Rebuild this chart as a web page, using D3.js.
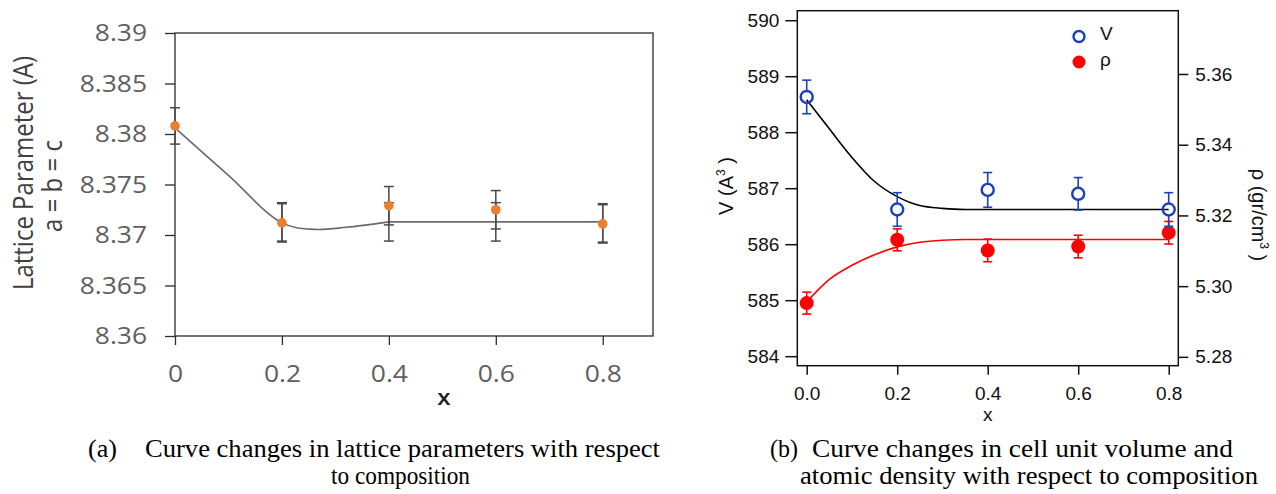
<!DOCTYPE html>
<html>
<head>
<meta charset="utf-8">
<script src="https://cdn.jsdelivr.net/npm/d3@7"></script>
<style>
  body { margin: 0; background: #fff; }
  svg { display: block; }
</style>
</head>
<body>
<svg id="chart" width="1276" height="494"></svg>
<script>
// ---- (a) lattice parameter vs composition
const compX = [0, 0.2, 0.4, 0.6, 0.8]
const latticeVal = [8.3808, 8.3712, 8.3729, 8.3725, 8.3711]
const latticeErr = [0.0018, 0.0019, 0.0019, 0.0019, 0.0019]
const latticeFitBarX = [0.2, 0.4, 0.6, 0.8]
const latticeFitBarVal = [8.3713, 8.3713, 8.3713, 8.3712]
const latticeFitBarErr = [0.0019, 0.0019, 0.0019, 0.0019]
// curved part of the fit, then the flat tail
const latticeFitX = [0, 0.1, 0.2, 0.26, 0.32, 0.4]
const latticeFitY = [8.3806, 8.3759, 8.3712, 8.37056, 8.37076, 8.3713]
const latticeTailX = [0.4, 0.8]
const latticeTailY = [8.3713, 8.3713]
const latticeTicks = [8.36, 8.365, 8.37, 8.375, 8.38, 8.385, 8.39]
const latticeTickLabels = ['8.36', '8.365', '8.37', '8.375', '8.38', '8.385', '8.39']
const compTickLabelsA = ['0', '0.2', '0.4', '0.6', '0.8']

// ---- (b) cell volume and density vs composition
const volVal = [588.63, 586.62, 586.97, 586.90, 586.62]
const volErr = [0.30, 0.30, 0.31, 0.29, 0.30]
const rhoVal = [5.2952, 5.3131, 5.3101, 5.3112, 5.3151]
const rhoErr = [0.0031, 0.0031, 0.0032, 0.0032, 0.0032]
const fitXB = [0, 0.05, 0.1, 0.15, 0.2, 0.25, 0.3, 0.35, 0.8]
const volFit = [588.58, 588.06, 587.55, 587.12, 586.85, 586.69, 586.64, 586.62, 586.62]
const rhoFit = [5.2955, 5.3019, 5.3059, 5.3089, 5.3111, 5.3124, 5.3130, 5.3132, 5.3132]
const volTicks = [584, 585, 586, 587, 588, 589, 590]
const rhoTicks = [5.28, 5.30, 5.32, 5.34, 5.36]
const rhoTickLabels = ['5.28', '5.30', '5.32', '5.34', '5.36']
const compTickLabelsB = ['0.0', '0.2', '0.4', '0.6', '0.8']

const svg = d3.select('#chart')
svg.append('rect').attr('width', 1276).attr('height', 494).attr('fill', '#fff')

// panel (a) text is a bit wider than normal in the source picture
const stretchA = 1.1
const widen = (sel, sx) => sel.each(function () {
  const t = d3.select(this)
  const x = +t.attr('x') || 0
  t.attr('x', x / sx).attr('transform', `scale(${sx},1)`)
})

// ================= panel (a)
const ax = d3.scaleLinear().domain([0, 0.894]).range([175, 653])
const ay = d3.scaleLinear().domain([8.36, 8.39]).range([336, 33])
const fontA = '"Open Sans", sans-serif'
const gA = svg.append('g')

gA.append('rect')
  .attr('x', ax.range()[0]).attr('y', ay.range()[1])
  .attr('width', ax.range()[1] - ax.range()[0])
  .attr('height', ay.range()[0] - ay.range()[1])
  .attr('fill', 'none').attr('stroke', '#2b2b2b').attr('stroke-width', 1.3)

const axisLA = gA.append('g')
  .attr('transform', `translate(${ax.range()[0]},0)`)
  .call(d3.axisLeft(ay).tickValues(latticeTicks).tickFormat((d, i) => latticeTickLabels[i])
    .tickSize(10).tickSizeOuter(0).tickPadding(18))
  .attr('font-family', fontA).attr('font-size', 24)
axisLA.select('.domain').remove()
axisLA.selectAll('.tick line').attr('stroke', '#2b2b2b').attr('stroke-width', 1.3)
axisLA.selectAll('text').attr('fill', '#606060')
widen(axisLA.selectAll('text'), stretchA)

const axisBA = gA.append('g')
  .attr('transform', `translate(0,${ay.range()[0]})`)
  .call(d3.axisBottom(ax).tickValues(compX).tickFormat((d, i) => compTickLabelsA[i])
    .tickSize(9).tickSizeOuter(0).tickPadding(19.5))
  .attr('font-family', fontA).attr('font-size', 24)
axisBA.select('.domain').remove()
axisBA.selectAll('.tick line').attr('stroke', '#2b2b2b').attr('stroke-width', 1.3)
axisBA.selectAll('text').attr('fill', '#606060')
widen(axisBA.selectAll('text'), stretchA)

// fitted curve
const fitLineA = d3.line().x(d => ax(d[0])).y(d => ay(d[1]))
gA.append('path')
  .datum(latticeFitX.map((x, i) => [x, latticeFitY[i]]))
  .attr('fill', 'none').attr('stroke', '#6a6a6a').attr('stroke-width', 1.6)
  .attr('d', fitLineA.curve(d3.curveCatmullRom.alpha(0.5)))
gA.append('path')
  .datum(latticeTailX.map((x, i) => [x, latticeTailY[i]]))
  .attr('fill', 'none').attr('stroke', '#6a6a6a').attr('stroke-width', 1.6)
  .attr('d', fitLineA.curve(d3.curveLinear))

const errBar = (g, xs, vals, errs, xScale, yScale, capW, color, sw) => {
  const bars = g.append('g').attr('stroke', color).attr('stroke-width', sw).attr('fill', 'none')
    .selectAll('g').data(xs.map((x, i) => ({ x, v: vals[i], e: errs[i] }))).join('g')
  bars.append('line')
    .attr('x1', d => xScale(d.x)).attr('x2', d => xScale(d.x))
    .attr('y1', d => yScale(d.v + d.e)).attr('y2', d => yScale(d.v - d.e))
  bars.append('line')
    .attr('x1', d => xScale(d.x) - capW / 2).attr('x2', d => xScale(d.x) + capW / 2)
    .attr('y1', d => yScale(d.v + d.e)).attr('y2', d => yScale(d.v + d.e))
  bars.append('line')
    .attr('x1', d => xScale(d.x) - capW / 2).attr('x2', d => xScale(d.x) + capW / 2)
    .attr('y1', d => yScale(d.v - d.e)).attr('y2', d => yScale(d.v - d.e))
}

errBar(gA, latticeFitBarX, latticeFitBarVal, latticeFitBarErr, ax, ay, 10, '#4a4a4a', 1.5)
errBar(gA, compX, latticeVal, latticeErr, ax, ay, 10, '#4a4a4a', 1.5)

gA.append('g').selectAll('circle')
  .data(compX.map((x, i) => [x, latticeVal[i]])).join('circle')
  .attr('cx', d => ax(d[0])).attr('cy', d => ay(d[1])).attr('r', 4.8)
  .attr('fill', '#ED7D31')

// axis titles (a)
gA.append('text')
  .attr('transform', `translate(33,173) scale(${stretchA},1) rotate(-90)`)
  .attr('text-anchor', 'middle').attr('font-family', fontA).attr('font-size', 24)
  .attr('fill', '#404040').text('Lattice Parameter (A)')
gA.append('text')
  .attr('transform', `translate(62,186) scale(${stretchA},1) rotate(-90)`)
  .attr('text-anchor', 'middle').attr('font-family', fontA).attr('font-size', 24)
  .attr('fill', '#404040').text('a = b = c')
gA.append('text')
  .attr('transform', `translate(444,405) scale(${stretchA},1)`)
  .attr('text-anchor', 'middle').attr('font-family', fontA).attr('font-size', 22)
  .attr('font-weight', 600).attr('fill', '#222').text('x')

// ================= panel (b)
const bx = d3.scaleLinear().domain([-0.0208, 0.8212]).range([797.3, 1178.3])
const byV = d3.scaleLinear().domain([583.83, 590.17]).range([365.7, 10.7])
const byR = d3.scaleLinear().domain([5.2775, 5.3779]).range([365.7, 10.7])
const fontB = '"Liberation Sans", Arial, sans-serif'
const blue = '#1a3fbf'
const red = '#ff0000'
const gB = svg.append('g')

gB.append('rect')
  .attr('x', bx.range()[0]).attr('y', byV.range()[1])
  .attr('width', bx.range()[1] - bx.range()[0])
  .attr('height', byV.range()[0] - byV.range()[1])
  .attr('fill', 'none').attr('stroke', '#111').attr('stroke-width', 1.5)

const styleB = g => {
  g.select('.domain').remove()
  g.attr('font-family', fontB).attr('font-size', 19)
  g.selectAll('.tick line').attr('stroke', '#111').attr('stroke-width', 1.5)
  g.selectAll('text').attr('fill', '#111')
}

gB.append('g').attr('transform', `translate(${bx.range()[0]},0)`)
  .call(d3.axisLeft(byV).tickValues(volTicks).tickFormat(d3.format('d')).tickSize(12).tickSizeOuter(0).tickPadding(6))
  .call(styleB)
gB.append('g').attr('transform', `translate(${bx.range()[1]},0)`)
  .call(d3.axisRight(byR).tickValues(rhoTicks).tickFormat((d, i) => rhoTickLabels[i]).tickSize(10).tickSizeOuter(0).tickPadding(7))
  .call(styleB)
gB.append('g').attr('transform', `translate(0,${byV.range()[0]})`)
  .call(d3.axisBottom(bx).tickValues(compX).tickFormat((d, i) => compTickLabelsB[i]).tickSize(9).tickSizeOuter(0).tickPadding(12))
  .call(styleB)

const lineB = yScale => d3.line().x(d => bx(d[0])).y(d => yScale(d[1])).curve(d3.curveMonotoneX)
gB.append('path')
  .datum(fitXB.map((x, i) => [x, volFit[i]]))
  .attr('fill', 'none').attr('stroke', '#000').attr('stroke-width', 1.6)
  .attr('d', lineB(byV))
gB.append('path')
  .datum(fitXB.map((x, i) => [x, rhoFit[i]]))
  .attr('fill', 'none').attr('stroke', red).attr('stroke-width', 1.6)
  .attr('d', lineB(byR))

// density points
errBar(gB, compX, rhoVal, rhoErr, bx, byR, 9, red, 1.6)
gB.append('g').selectAll('circle')
  .data(compX.map((x, i) => [x, rhoVal[i]])).join('circle')
  .attr('cx', d => bx(d[0])).attr('cy', d => byR(d[1])).attr('r', 7)
  .attr('fill', red)

// volume points (open circles, bars stop at the ring)
const rV = 6
const volBars = gB.append('g').attr('stroke', blue).attr('stroke-width', 1.6)
  .selectAll('g').data(compX.map((x, i) => ({ x, v: volVal[i], e: volErr[i] }))).join('g')
volBars.append('line')
  .attr('x1', d => bx(d.x)).attr('x2', d => bx(d.x))
  .attr('y1', d => byV(d.v + d.e)).attr('y2', d => byV(d.v) - rV)
volBars.append('line')
  .attr('x1', d => bx(d.x)).attr('x2', d => bx(d.x))
  .attr('y1', d => byV(d.v) + rV).attr('y2', d => byV(d.v - d.e))
volBars.append('line')
  .attr('x1', d => bx(d.x) - 4.5).attr('x2', d => bx(d.x) + 4.5)
  .attr('y1', d => byV(d.v + d.e)).attr('y2', d => byV(d.v + d.e))
volBars.append('line')
  .attr('x1', d => bx(d.x) - 4.5).attr('x2', d => bx(d.x) + 4.5)
  .attr('y1', d => byV(d.v - d.e)).attr('y2', d => byV(d.v - d.e))
gB.append('g').selectAll('circle')
  .data(compX.map((x, i) => [x, volVal[i]])).join('circle')
  .attr('cx', d => bx(d[0])).attr('cy', d => byV(d[1])).attr('r', rV)
  .attr('fill', 'none').attr('stroke', blue).attr('stroke-width', 2.4)

// legend
const legend = gB.append('g').attr('font-family', fontB).attr('font-size', 19).attr('fill', '#111')
legend.append('circle').attr('cx', 1079).attr('cy', 36.5).attr('r', 5.5)
  .attr('fill', 'none').attr('stroke', blue).attr('stroke-width', 2.4)
legend.append('text').attr('x', 1100).attr('y', 40).text('V')
legend.append('circle').attr('cx', 1079).attr('cy', 62).attr('r', 6.5).attr('fill', red)
legend.append('text').attr('x', 1100).attr('y', 66).text('ρ')

// axis titles (b)
const vTitle = gB.append('text')
  .attr('transform', 'translate(733,186) rotate(-90)')
  .attr('text-anchor', 'middle').attr('font-family', fontB).attr('font-size', 20).attr('fill', '#111')
vTitle.append('tspan').text('V (A')
vTitle.append('tspan').attr('dy', -8).attr('font-size', 12).text('3')
vTitle.append('tspan').attr('dy', 8).text(' )')

const rTitle = gB.append('text')
  .attr('transform', 'translate(1252,215) rotate(90)')
  .attr('text-anchor', 'middle').attr('font-family', fontB).attr('font-size', 20).attr('fill', '#111')
rTitle.append('tspan').text('ρ (gr/cm')
rTitle.append('tspan').attr('dy', -8).attr('font-size', 12).text('3')
rTitle.append('tspan').attr('dy', 8).text(' )')

gB.append('text').attr('x', (bx.range()[0] + bx.range()[1]) / 2).attr('y', 421)
  .attr('text-anchor', 'middle').attr('font-family', fontB).attr('font-size', 19).attr('fill', '#111').text('x')

// ================= captions
const capFont = '"Liberation Serif", "Times New Roman", serif'
const cap = (x, y, txt, w) => {
  svg.append('text').attr('x', x).attr('y', y)
    .attr('font-family', capFont).attr('font-size', 24.5).attr('fill', '#000')
    .attr('textLength', w).attr('lengthAdjust', 'spacingAndGlyphs')
    .text(txt)
}
cap(88, 457, '(a)', 29)
cap(145, 457, 'Curve changes in lattice parameters with respect', 515)
cap(331, 484, 'to composition', 139)
cap(770, 457, '(b)', 28)
cap(812, 457, 'Curve changes in cell unit volume and', 421)
cap(800, 484, 'atomic density with respect to composition', 458)
</script>
</body>
</html>
